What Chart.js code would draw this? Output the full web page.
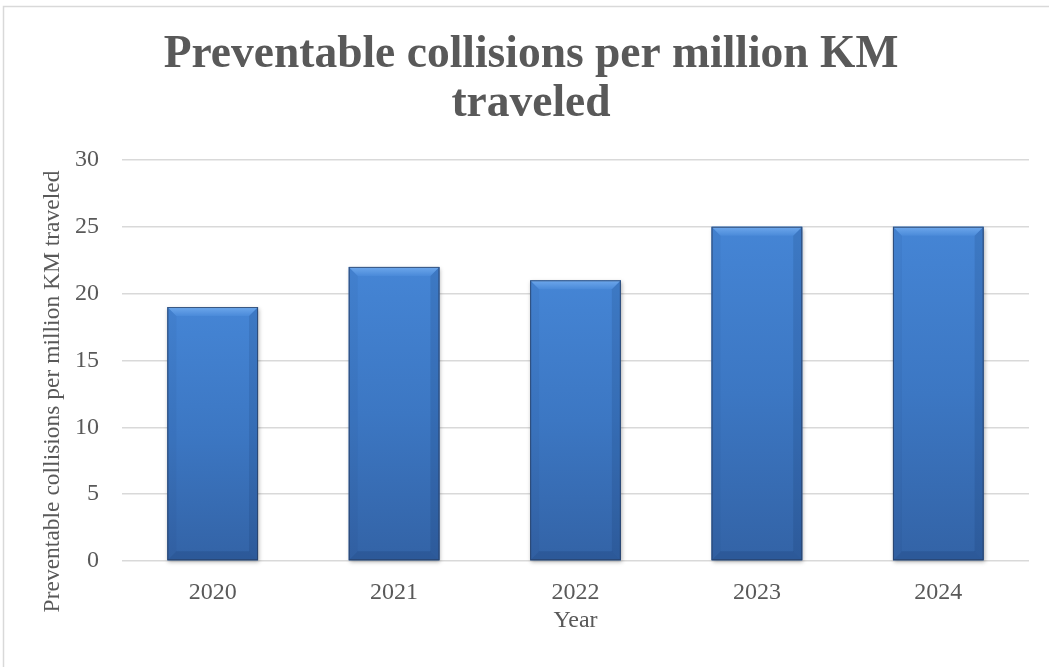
<!DOCTYPE html>
<html>
<head>
<meta charset="utf-8">
<script src="https://cdn.jsdelivr.net/npm/chart.js@4.4.1/dist/chart.umd.min.js"></script>
<style>
  html, body { margin: 0; padding: 0; background: #ffffff; }
  #wrap { position: relative; width: 1049px; height: 667px; }
</style>
</head>
<body>
<div id="wrap"><canvas id="c" width="1049" height="667"></canvas></div>
<script>
// Chart data
const years = ['2020', '2021', '2022', '2023', '2024'];
const collisions = [19, 22, 21, 25, 25];
const yTicks = [0, 5, 10, 15, 20, 25, 30];

const chartTitle = ['Preventable collisions per million KM', 'traveled'];
const xAxisTitle = 'Year';
const yAxisTitle = 'Preventable collisions per million KM traveled';

const TEXT = '#595959';
const SERIF = '"Liberation Serif", "DejaVu Serif", serif';

// Light frame around the chart
const framePlugin = {
  id: 'frame',
  beforeDraw(chart) {
    const ctx = chart.ctx;
    ctx.save();
    ctx.fillStyle = '#ffffff';
    ctx.fillRect(0, 0, chart.width, chart.height);
    ctx.strokeStyle = '#d9d9d9';
    ctx.lineWidth = 1.5;
    ctx.strokeRect(3.5, 6.5, chart.width + 20, chart.height + 20);
    ctx.restore();
  }
};

// Bevelled, gradient-filled look for each bar, using the bar geometry from the chart
const bevelPlugin = {
  id: 'bevel',
  afterDatasetsDraw(chart) {
    const ctx = chart.ctx;
    chart.getSortedVisibleDatasetMetas().forEach(meta => {
      meta.data.forEach(bar => {
        const p = bar.getProps(['x', 'y', 'base', 'width'], true);
        const l = p.x - p.width / 2, r = p.x + p.width / 2;
        const t = Math.min(p.y, p.base), b = Math.max(p.y, p.base);
        const bv = 9;
        ctx.save();
        // soft shadow + body gradient
        ctx.shadowColor = 'rgba(0,0,0,0.3)';
        ctx.shadowBlur = 4;
        ctx.shadowOffsetX = 1;
        ctx.shadowOffsetY = 2;
        const g = ctx.createLinearGradient(0, t, 0, b);
        g.addColorStop(0, '#4585d5');
        g.addColorStop(0.5, '#3c77c3');
        g.addColorStop(1, '#3363a6');
        ctx.fillStyle = g;
        ctx.fillRect(l, t, r - l, b - t);
        ctx.shadowColor = 'transparent';
        // top bevel
        const gt = ctx.createLinearGradient(0, t, 0, t + bv);
        gt.addColorStop(0, '#6ea8ec');
        gt.addColorStop(1, '#4a8ad9');
        ctx.fillStyle = gt;
        ctx.beginPath();
        ctx.moveTo(l, t); ctx.lineTo(r, t); ctx.lineTo(r - bv, t + bv); ctx.lineTo(l + bv, t + bv);
        ctx.closePath(); ctx.fill();
        // left bevel
        ctx.fillStyle = 'rgba(10,30,70,0.05)';
        ctx.beginPath();
        ctx.moveTo(l, t); ctx.lineTo(l + bv, t + bv); ctx.lineTo(l + bv, b - bv); ctx.lineTo(l, b);
        ctx.closePath(); ctx.fill();
        // right bevel
        ctx.fillStyle = 'rgba(10,30,70,0.12)';
        ctx.beginPath();
        ctx.moveTo(r, t); ctx.lineTo(r - bv, t + bv); ctx.lineTo(r - bv, b - bv); ctx.lineTo(r, b);
        ctx.closePath(); ctx.fill();
        // bottom bevel
        ctx.fillStyle = 'rgba(10,30,70,0.14)';
        ctx.beginPath();
        ctx.moveTo(l, b); ctx.lineTo(r, b); ctx.lineTo(r - bv, b - bv); ctx.lineTo(l + bv, b - bv);
        ctx.closePath(); ctx.fill();
        // outline
        ctx.strokeStyle = 'rgba(40,60,95,0.75)';
        ctx.lineWidth = 1;
        ctx.strokeRect(l + 0.5, t + 0.5, r - l - 1, b - t - 1);
        ctx.restore();
      });
    });
  }
};

// Vertical axis title, centred on the full plot height including its label band
const yTitlePlugin = {
  id: 'yTitle',
  afterDraw(chart) {
    const ctx = chart.ctx;
    const a = chart.chartArea;
    ctx.save();
    ctx.translate(53, (a.top + a.bottom) / 2 + 31);
    ctx.rotate(-Math.PI / 2);
    ctx.font = '23.5px ' + SERIF;
    ctx.fillStyle = TEXT;
    ctx.textAlign = 'center';
    ctx.textBaseline = 'middle';
    ctx.fillText(yAxisTitle, 0, 0);
    ctx.restore();
  }
};

new Chart(document.getElementById('c'), {
  type: 'bar',
  data: {
    labels: years,
    datasets: [{
      label: yAxisTitle,
      data: collisions,
      backgroundColor: '#3c77c3',
      borderWidth: 0,
      barPercentage: 0.5,
      categoryPercentage: 1.0
    }]
  },
  options: {
    responsive: false,
    animation: false,
    devicePixelRatio: 1,
    layout: { padding: { left: 33, right: 20, top: 0, bottom: 32 } },
    plugins: {
      legend: { display: false },
      tooltip: { enabled: false },
      title: {
        display: true,
        text: chartTitle,
        color: TEXT,
        font: { family: SERIF, size: 45.5, weight: 'bold', lineHeight: 1.08 },
        padding: { top: 31, bottom: 30.7 }
      }
    },
    scales: {
      x: {
        afterFit(scale) { scale.height = 74; },
        grid: { display: false, drawTicks: false },
        border: { display: false },
        ticks: { color: TEXT, font: { family: SERIF, size: 24 }, padding: 17 },
        title: {
          display: true,
          text: xAxisTitle,
          color: TEXT,
          font: { family: SERIF, size: 24 },
          padding: { top: 4, bottom: 0 }
        }
      },
      y: {
        min: 0,
        max: 30,
        afterBuildTicks(scale) { scale.ticks = yTicks.map(v => ({ value: v })); },
        afterFit(scale) { scale.width = 89; },
        grid: { color: '#d9d9d9', lineWidth: 1.5, drawTicks: false },
        border: { display: false },
        ticks: { color: TEXT, font: { family: SERIF, size: 24 }, padding: 23 }
      }
    }
  },
  plugins: [framePlugin, bevelPlugin, yTitlePlugin]
});
</script>
</body>
</html>
